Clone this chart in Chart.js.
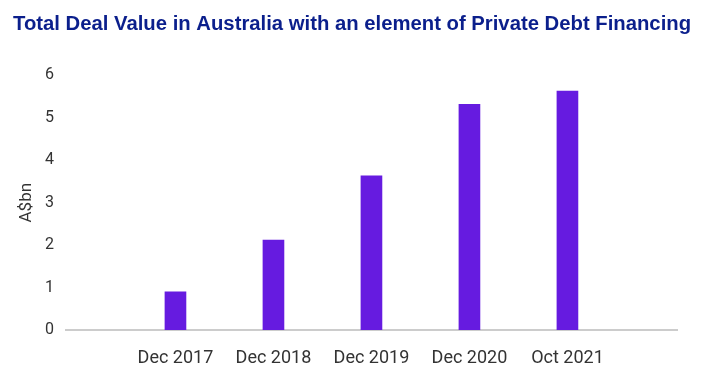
<!DOCTYPE html>
<html>
<head>
<meta charset="utf-8">
<script src="https://cdn.jsdelivr.net/npm/chart.js@4.4.1/dist/chart.umd.min.js"></script>
<style>
  html, body { margin: 0; padding: 0; background: #ffffff; }
  #wrap { width: 718px; height: 378px; position: relative; }
  canvas { display: block; }
</style>
</head>
<body>
<div id="wrap"><canvas id="c" width="718" height="378"></canvas></div>
<script>
// ---- data ----
const titleText = 'Total Deal Value in Australia with an element of Private Debt Financing';
const categories = ['Dec 2017', 'Dec 2018', 'Dec 2019', 'Dec 2020', 'Oct 2021'];
const dealValues = [0.9, 2.12, 3.63, 5.32, 5.63];
const yTicks = [0, 1, 2, 3, 4, 5, 6];
const yAxisLabel = 'A$bn';

const barPoints = categories.map((c, i) => ({ x: i, y: dealValues[i] }));

Chart.defaults.font.family = 'Roboto, "Liberation Sans", Arial, sans-serif';

new Chart(document.getElementById('c'), {
  type: 'bar',
  data: {
    datasets: [{
      data: barPoints,
      backgroundColor: '#661be0',
      borderWidth: 0,
      barThickness: 21
    }]
  },
  options: {
    responsive: false,
    animation: false,
    devicePixelRatio: 1,
    layout: { padding: { left: 13, right: 0, top: 0, bottom: 0 } },
    plugins: {
      legend: { display: false },
      tooltip: { enabled: false },
      title: {
        display: true,
        text: titleText,
        align: 'start',
        color: '#0b1f8c',
        font: { family: '"Liberation Sans", Arial, sans-serif', size: 20.3, weight: 'bold' },
        padding: { top: 12, bottom: 39 }
      }
    },
    scales: {
      x: {
        type: 'linear',
        offset: false,
        min: -1.117,
        max: 5.118,
        grid: { display: false, drawTicks: false },
        border: { display: true, color: '#cccccc', width: 2 },
        afterBuildTicks: (scale) => {
          scale.ticks = categories.map((c, i) => ({ value: i }));
        },
        afterFit: (scale) => { scale.height = 48; },
        ticks: {
          color: '#333333',
          font: { size: 18 },
          padding: 18,
          maxRotation: 0,
          autoSkip: false,
          callback: (v) => categories[v]
        }
      },
      y: {
        min: 0,
        max: 6,
        grid: { display: false, drawTicks: false },
        border: { display: false },
        afterBuildTicks: (scale) => {
          scale.ticks = yTicks.map(v => ({ value: v }));
        },
        afterFit: (scale) => { scale.width = 53; },
        title: {
          display: true,
          text: yAxisLabel,
          color: '#333333',
          font: { size: 17 },
          padding: { top: 4, bottom: 0 }
        },
        ticks: {
          color: '#333333',
          font: { size: 16 },
          padding: 12
        }
      },
      yRightSpace: {
        position: 'right',
        min: 0,
        max: 6,
        grid: { display: false, drawTicks: false },
        border: { display: false },
        ticks: { display: false },
        afterFit: (scale) => { scale.width = 41; }
      }
    }
  }
});
</script>
</body>
</html>
